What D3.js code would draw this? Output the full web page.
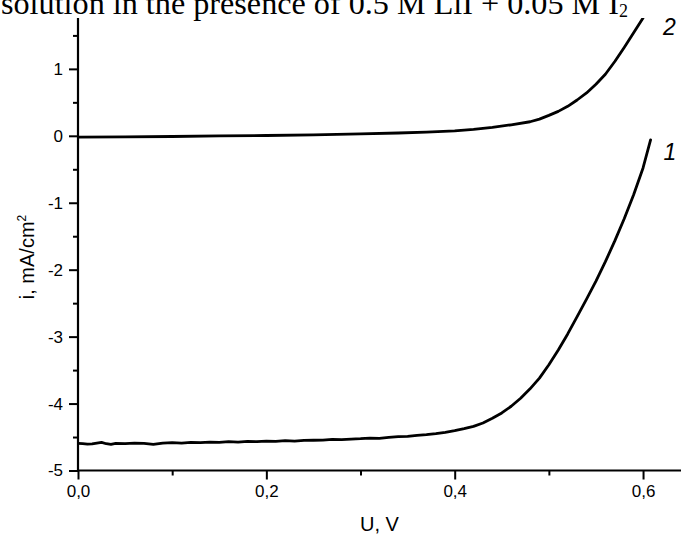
<!DOCTYPE html>
<html>
<head>
<meta charset="utf-8">
<script src="https://cdn.jsdelivr.net/npm/d3@7/dist/d3.min.js"></script>
<style>
  html, body { margin: 0; padding: 0; background: #fff; }
  svg { display: block; }
</style>
</head>
<body>
<svg id="chart" width="681" height="536"></svg>
<script>
// Curve 1: current density (mA/cm²) vs voltage (V)
const voltage1 = [
  0.000, 0.005, 0.010, 0.015, 0.020, 0.025, 0.030, 0.035, 0.040, 0.050,
  0.060, 0.070, 0.080, 0.090, 0.100, 0.110, 0.120, 0.130, 0.140, 0.150,
  0.160, 0.170, 0.180, 0.190, 0.200, 0.210, 0.220, 0.230, 0.240, 0.250,
  0.260, 0.270, 0.280, 0.290, 0.300, 0.310, 0.320, 0.330, 0.340, 0.350,
  0.360, 0.370, 0.380, 0.390, 0.400, 0.410, 0.420, 0.430, 0.440, 0.450,
  0.460, 0.470, 0.480, 0.490, 0.500, 0.510, 0.520, 0.530, 0.540, 0.550,
  0.560, 0.570, 0.580, 0.590, 0.600, 0.608
];
const current1 = [
  -4.595, -4.600, -4.605, -4.602, -4.590, -4.580, -4.600, -4.610, -4.595, -4.600,
  -4.590, -4.595, -4.610, -4.590, -4.585, -4.590, -4.580, -4.585, -4.575, -4.580,
  -4.570, -4.575, -4.565, -4.570, -4.560, -4.565, -4.555, -4.560, -4.550, -4.548,
  -4.545, -4.535, -4.540, -4.530, -4.525, -4.515, -4.520, -4.505, -4.495, -4.490,
  -4.475, -4.465, -4.450, -4.430, -4.405, -4.375, -4.340, -4.290, -4.220, -4.140,
  -4.040, -3.920, -3.780, -3.620, -3.420, -3.200, -2.960, -2.700, -2.440, -2.170,
  -1.880, -1.570, -1.240, -0.880, -0.480, -0.060
];

// Curve 2
const voltage2 = [
  0.000, 0.050, 0.100, 0.150, 0.200, 0.250, 0.300, 0.340, 0.370, 0.400,
  0.420, 0.440, 0.460, 0.480, 0.490, 0.500, 0.510, 0.520, 0.530, 0.540,
  0.550, 0.560, 0.570, 0.580, 0.590, 0.600
];
const current2 = [
  -0.020, -0.015, -0.010, -0.002, 0.005, 0.015, 0.028, 0.042, 0.055, 0.075,
  0.095, 0.125, 0.165, 0.210, 0.250, 0.305, 0.365, 0.440, 0.535, 0.640,
  0.770, 0.920, 1.110, 1.320, 1.540, 1.760
];

const curveNames = ["1", "2"];
const xMajorTicks = [0, 0.2, 0.4, 0.6];
const xMinorTicks = [0.1, 0.3, 0.5];
const yMajorTicks = [-5, -4, -3, -2, -1, 0, 1];
const yMinorTicks = [-4.5, -3.5, -2.5, -1.5, -0.5, 0.5, 1.5];

const svg = d3.select("#chart");
const plotLeft = 78, plotRight = 681, plotTop = 18, plotBottom = 470.5;

const x = d3.scaleLinear().domain([0, 0.6403]).range([plotLeft, plotRight]);
const y = d3.scaleLinear().domain([-5, 1.76]).range([plotBottom, plotTop]);

const sans = "Arial, 'Liberation Sans', Helvetica, sans-serif";
const serif = "'Times New Roman', 'Liberation Serif', Times, serif";

// Title line (runs off the top edge of the page)
const title = svg.append("text")
  .attr("x", 1).attr("y", 13.5)
  .attr("font-family", serif).attr("font-size", 32.2).attr("fill", "#000");
title.append("tspan").text("solution in the presence of 0.5 M LiI + 0.05 M I");
title.append("tspan").attr("font-size", 18).attr("dy", 3.5).text("2");

// Clip for curves
svg.append("defs").append("clipPath").attr("id", "plot-clip")
  .append("rect").attr("x", plotLeft).attr("y", plotTop)
  .attr("width", plotRight - plotLeft).attr("height", plotBottom - plotTop);

const line = d3.line().x(d => x(d[0])).y(d => y(d[1]));
const series = [
  d3.zip(voltage1, current1),
  d3.zip(voltage2, current2)
];
svg.append("g").attr("clip-path", "url(#plot-clip)")
  .selectAll("path").data(series).join("path")
  .attr("d", line)
  .attr("fill", "none").attr("stroke", "#000")
  .attr("stroke-width", 2.8).attr("stroke-linejoin", "round").attr("stroke-linecap", "round");

// X axis
const xAxis = svg.append("g").attr("transform", `translate(0,${plotBottom})`)
  .call(d3.axisBottom(x).tickValues(xMajorTicks).tickSize(9).tickPadding(5)
    .tickFormat(d => d.toFixed(1).replace(".", ",")))
  .call(g => g.select(".domain").attr("d", `M${plotLeft},0H${plotRight}`));
xAxis.selectAll(".tick line").attr("stroke-width", 2);
xAxis.select(".domain").attr("stroke-width", 2.2);
xAxis.selectAll("text").attr("font-family", sans).attr("font-size", 17).attr("fill", "#000");
svg.append("g").attr("transform", `translate(0,${plotBottom})`)
  .call(d3.axisBottom(x).tickValues(xMinorTicks).tickSize(5).tickFormat(""))
  .call(g => g.select(".domain").remove())
  .selectAll("line").attr("stroke-width", 2);

// Y axis
const yAxis = svg.append("g").attr("transform", `translate(${plotLeft},0)`)
  .call(d3.axisLeft(y).tickValues(yMajorTicks).tickSize(9).tickPadding(6)
    .tickFormat(d => String(d)))
  .call(g => g.select(".domain").attr("d", `M0,${plotTop}V${plotBottom}`));
yAxis.selectAll(".tick line").attr("stroke-width", 2);
yAxis.select(".domain").attr("stroke-width", 2.2);
yAxis.selectAll("text").attr("font-family", sans).attr("font-size", 17).attr("fill", "#000");
svg.append("g").attr("transform", `translate(${plotLeft},0)`)
  .call(d3.axisLeft(y).tickValues(yMinorTicks).tickSize(5).tickFormat(""))
  .call(g => g.select(".domain").remove())
  .selectAll("line").attr("stroke-width", 2);

// Axis titles
svg.append("text")
  .attr("x", (plotLeft + plotRight) / 2).attr("y", 531)
  .attr("text-anchor", "middle")
  .attr("font-family", sans).attr("font-size", 20).attr("fill", "#000")
  .text("U, V");

const yTitle = svg.append("text")
  .attr("transform", "translate(34,257) rotate(-90)")
  .attr("text-anchor", "middle")
  .attr("font-family", sans).attr("font-size", 20).attr("fill", "#000");
yTitle.append("tspan").text("i, mA/cm");
yTitle.append("tspan").attr("font-size", 12).attr("dy", -8).text("2");

// Curve labels
const labelPos = [
  { u: voltage1[voltage1.length - 1], i: current1[current1.length - 1], dx: 13, dy: 20 },
  { u: voltage2[voltage2.length - 1], i: current2[current2.length - 1], dx: 20, dy: 17 }
];
svg.selectAll(".curve-label").data(curveNames).join("text")
  .attr("class", "curve-label")
  .attr("x", (d, k) => x(labelPos[k].u) + labelPos[k].dx)
  .attr("y", (d, k) => y(labelPos[k].i) + labelPos[k].dy)
  .attr("font-family", sans).attr("font-style", "italic").attr("font-size", 23).attr("fill", "#000")
  .text(d => d);
</script>
</body>
</html>
